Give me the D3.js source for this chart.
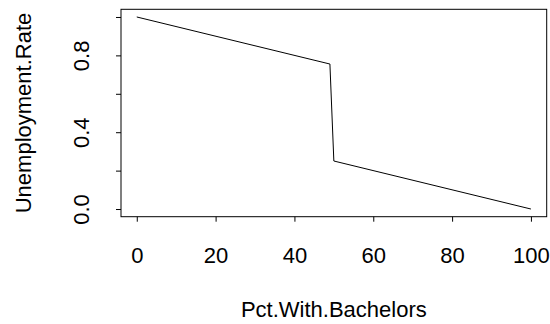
<!DOCTYPE html>
<html>
<head>
<meta charset="utf-8">
<script src="https://cdn.jsdelivr.net/npm/d3@7"></script>
<style>
  body { margin: 0; background: #fff; }
  svg text { font-family: "Liberation Sans", Arial, Helvetica, sans-serif; font-size: 22px; fill: #000; }
</style>
</head>
<body>
<svg id="plot" width="550" height="324"></svg>
<script>
// values
const pctWithBachelors = [0, 49, 50, 100];
const unemploymentRate = [1.0, 0.755, 0.25, 0.0];
const xTicks = [0, 20, 40, 60, 80, 100];
const yTicks = [0, 0.2, 0.4, 0.6, 0.8, 1.0];
const yTickLabels = ["0.0", "", "0.4", "", "0.8", ""];

const svg = d3.select("svg#plot");
const bounds = { minX: 121, maxX: 546.7, minY: 9.3, maxY: 216.7 };

// R pads the data range by 4% on each side
const scaleX = d3.scaleLinear().domain([-4, 104]).range([bounds.minX, bounds.maxX]);
const scaleY = d3.scaleLinear().domain([-0.04, 1.04]).range([bounds.maxY, bounds.minY]);

// x axis
const xAxisG = svg.append("g")
    .attr("transform", `translate(0 ${bounds.maxY})`)
    .call(d3.axisBottom(scaleX).tickValues(xTicks).tickSize(5).tickSizeOuter(0).tickFormat(d3.format("d")));
xAxisG.select(".domain").remove();
xAxisG.selectAll(".tick line").attr("stroke", "#000");
xAxisG.selectAll(".tick text")
    .attr("y", 46).attr("dy", 0)
    .attr("font-size", null).attr("font-family", null);

// y axis, labels rotated like R's las = 0
const yAxisG = svg.append("g")
    .attr("transform", `translate(${bounds.minX} 0)`)
    .call(d3.axisLeft(scaleY).tickValues(yTicks).tickSize(5).tickSizeOuter(0)
        .tickFormat((d, i) => yTickLabels[i]));
yAxisG.select(".domain").remove();
yAxisG.selectAll(".tick line").attr("stroke", "#000");
yAxisG.selectAll(".tick text")
    .attr("x", 0).attr("y", 0).attr("dy", 0)
    .attr("text-anchor", "middle")
    .attr("transform", "translate(-32 0) rotate(-90)")
    .attr("font-size", null).attr("font-family", null);
yAxisG.attr("text-anchor", null);

// box
svg.append("rect")
    .attr("x", bounds.minX).attr("y", bounds.minY)
    .attr("width", bounds.maxX - bounds.minX).attr("height", bounds.maxY - bounds.minY)
    .attr("fill", "none").attr("stroke", "#000").attr("stroke-width", 1);

// the line
const line = d3.line()
    .x((d, i) => scaleX(pctWithBachelors[i]))
    .y(d => scaleY(d));
svg.append("path")
    .datum(unemploymentRate)
    .attr("d", line)
    .attr("fill", "none").attr("stroke", "#000").attr("stroke-width", 1);

// axis titles
svg.append("text")
    .attr("x", (bounds.minX + bounds.maxX) / 2).attr("y", 317)
    .attr("text-anchor", "middle")
    .text("Pct.With.Bachelors");

svg.append("text")
    .attr("transform", `translate(31 ${(bounds.minY + bounds.maxY) / 2}) rotate(-90)`)
    .attr("text-anchor", "middle")
    .text("Unemployment.Rate");
</script>
</body>
</html>
